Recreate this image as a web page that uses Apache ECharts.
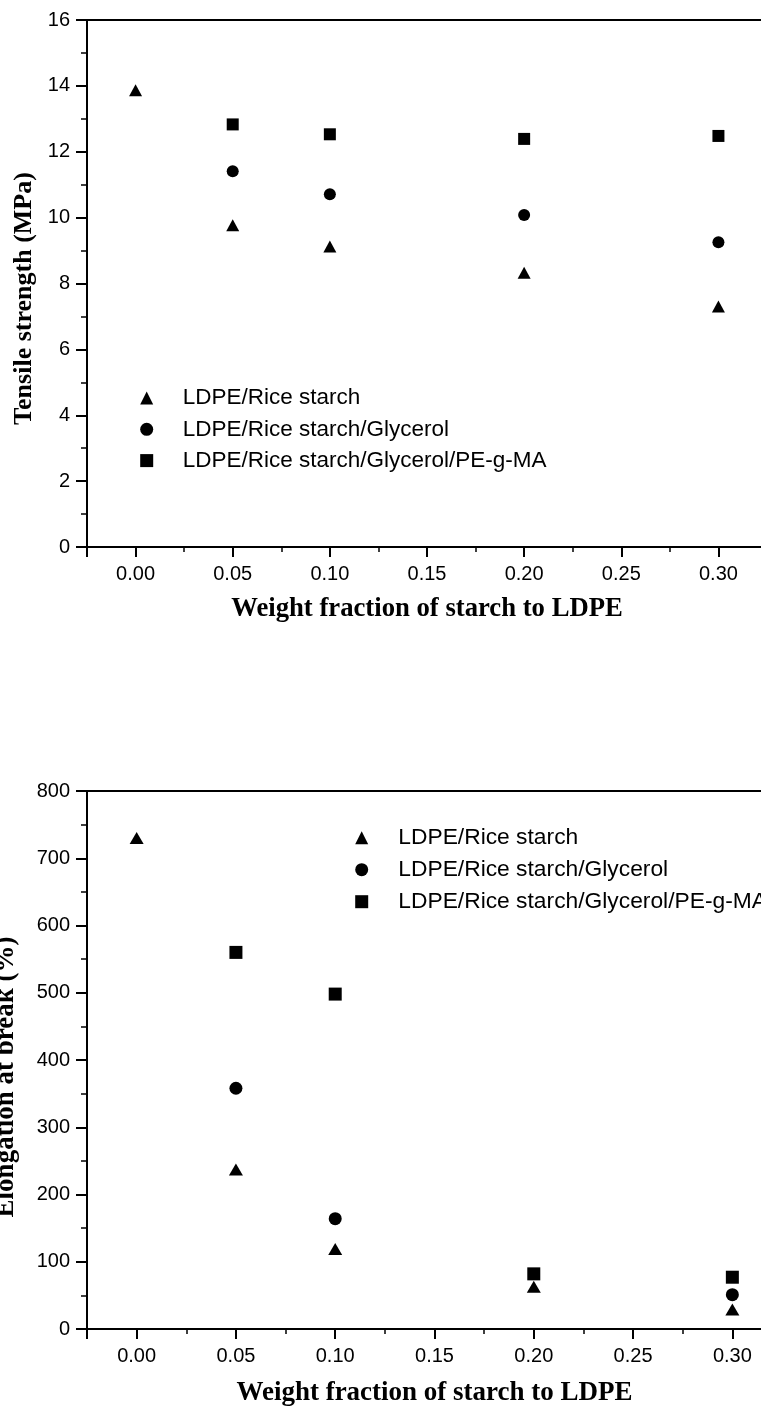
<!DOCTYPE html>
<html>
<head>
<meta charset="utf-8">
<script src="https://cdn.jsdelivr.net/npm/echarts@6/dist/echarts.min.js"></script>
<style>
html,body{margin:0;padding:0;background:#fff;}
#c{width:761px;height:1409px;}
</style>
</head>
<body>
<div id="c"></div>
<script>
// ---- data ----
var seriesNames = ['LDPE/Rice starch', 'LDPE/Rice starch/Glycerol', 'LDPE/Rice starch/Glycerol/PE-g-MA'];
var xFractions = [0.00, 0.05, 0.10, 0.20, 0.30];
// Tensile strength (MPa)
var tensileRice = [13.87, 9.77, 9.12, 8.33, 7.30];
var tensileGlycerol = [null, 11.41, 10.71, 10.08, 9.25];
var tensilePEgMA = [null, 12.83, 12.53, 12.39, 12.48];
// Elongation at break (%)
var elongRice = [730, 237, 119, 63, 29];
var elongGlycerol = [null, 358, 164, null, 51];
var elongPEgMA = [null, 560, 498, 82, 77];

var xTitle = 'Weight fraction of starch to LDPE';
var yTitle1 = 'Tensile strength (MPa)';
var yTitle2 = 'Elongation at break (%)';

function pairs(ys) {
  var out = [];
  for (var i = 0; i < xFractions.length; i++) {
    if (ys[i] !== null) out.push([xFractions[i], ys[i]]);
  }
  return out;
}

var sans = 'Liberation Sans, Arial, sans-serif';
var serif = 'Liberation Serif, Times New Roman, serif';

function xAxisCfg(gridIndex, nameGap, fs) {
  return {
    type: 'value', gridIndex: gridIndex,
    min: -0.025, max: 0.325, splitNumber: 7, minInterval: 0.05, maxInterval: 0.05,
    name: xTitle, nameLocation: 'middle', nameGap: nameGap,
    nameTextStyle: { fontFamily: serif, fontWeight: 'bold', fontSize: fs, color: '#000' },
    axisLine: { show: true, onZero: false, lineStyle: { color: '#000', width: 2 } },
    axisTick: { show: true, inside: false, length: 10, lineStyle: { color: '#000', width: 2 } },
    minorTick: { show: true, splitNumber: 2, length: 5, lineStyle: { color: '#000', width: 1.5 } },
    splitLine: { show: false },
    axisLabel: {
      show: true, margin: 17, fontFamily: sans, fontSize: 20, color: '#000',
      showMinLabel: false, showMaxLabel: false,
      formatter: function (v) {
        var k = Math.round(v / 0.05);
        if (Math.abs(k * 0.05 - v) > 1e-6) return '';
        return v.toFixed(2);
      }
    }
  };
}

function yAxisCfg(gridIndex, max, interval, name, nameGap, fs, shift) {
  return {
    type: 'value', gridIndex: gridIndex,
    min: 0, max: max, interval: interval,
    name: name, nameLocation: 'middle', nameGap: nameGap,
    nameTextStyle: { fontFamily: serif, fontWeight: 'bold', fontSize: fs, color: '#000', padding: [0, shift, 0, 0] },
    axisLine: { show: true, onZero: false, lineStyle: { color: '#000', width: 2 } },
    axisTick: { show: true, inside: false, length: 11, lineStyle: { color: '#000', width: 2 } },
    minorTick: { show: true, splitNumber: 2, length: 6, lineStyle: { color: '#000', width: 1.5 } },
    splitLine: { show: false },
    axisLabel: { show: true, margin: 17, fontFamily: sans, fontSize: 20, color: '#000' }
  };
}

function scatter(name, xi, yi, data, symbol, size) {
  return {
    type: 'scatter', name: name, xAxisIndex: xi, yAxisIndex: yi,
    data: data, symbol: symbol, symbolSize: size,
    itemStyle: { color: '#000', opacity: 1 },
    emphasis: { disabled: true }
  };
}

var chart = echarts.init(document.getElementById('c'), null, { renderer: 'canvas' });
chart.setOption({
  animation: false,
  backgroundColor: '#fff',
  grid: [
    { left: 87, top: 20, width: 680, height: 527, outerBoundsMode: 'none', containLabel: false, show: true, borderColor: '#000', borderWidth: 2, backgroundColor: 'transparent' },
    { left: 87, top: 791, width: 695, height: 538, outerBoundsMode: 'none', containLabel: false, show: true, borderColor: '#000', borderWidth: 2, backgroundColor: 'transparent' }
  ],
  legend: [
    {
      orient: 'vertical', left: 140.2, top: 386.5, padding: 0, itemGap: 8.3,
      itemWidth: 13, itemHeight: 13, selectedMode: false,
      data: seriesNames,
      textStyle: { fontFamily: sans, fontSize: 22.5, color: '#000', lineHeight: 23, padding: [0, 0, 0, 24.5] }
    },
    {
      orient: 'vertical', left: 355.2, top: 826.2, padding: 0, itemGap: 9,
      itemWidth: 13, itemHeight: 13, selectedMode: false,
      data: seriesNames,
      textStyle: { fontFamily: sans, fontSize: 22.8, color: '#000', lineHeight: 23, padding: [0, 0, 0, 25.1] }
    }
  ],
  xAxis: [xAxisCfg(0, 49, 26.7), xAxisCfg(1, 51, 27)],
  yAxis: [yAxisCfg(0, 16, 2, yTitle1, 50, 26, 30), yAxisCfg(1, 800, 100, yTitle2, 67, 27, 34)],
  series: [
    scatter(seriesNames[0], 0, 0, pairs(tensileRice), 'triangle', [13, 12]),
    scatter(seriesNames[1], 0, 0, pairs(tensileGlycerol), 'circle', 12),
    scatter(seriesNames[2], 0, 0, pairs(tensilePEgMA), 'rect', 12),
    scatter(seriesNames[0], 1, 1, pairs(elongRice), 'triangle', [14, 12]),
    scatter(seriesNames[1], 1, 1, pairs(elongGlycerol), 'circle', 13),
    scatter(seriesNames[2], 1, 1, pairs(elongPEgMA), 'rect', 13)
  ]
});
</script>
</body>
</html>
